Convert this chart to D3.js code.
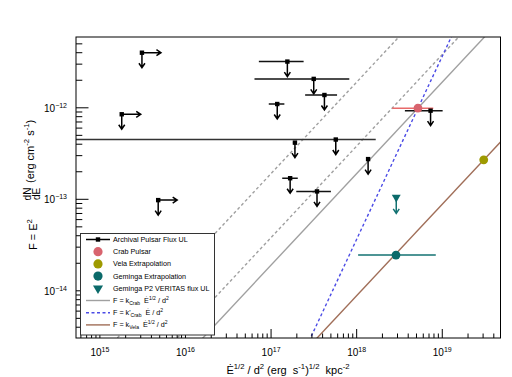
<!DOCTYPE html>
<html>
<head>
<meta charset="utf-8">
<script src="https://cdn.jsdelivr.net/npm/d3@7"></script>
<style>
body{margin:0;background:#fff}
text{font-family:"Liberation Sans",Arial,sans-serif;white-space:pre}
</style>
</head>
<body>
<svg class="chart"></svg>
<script>
//archival pulsar flux upper limits, xLo/xHi null = no bar, xLimit = arrow to the right
const archX = [3.1e15, 1.8e15, 4.8e15, 1.55e17, 3.15e17, 4.2e17, 1.18e17, 5.7e17, 1.9e17, 1.36e18, 1.67e17, 3.44e17, 7.3e18]
const archXLo = [null, null, null, 7.2e16, 6.4e16, 2.5e17, 9.4e16, 1e14, 1.8e17, null, 1.35e17, 1.97e17, 3.66e18]
const archXHi = [null, null, null, 2.4e17, 8.2e17, 5.9e17, 1.43e17, 1.67e18, 2.0e17, null, 2.05e17, 5.0e17, 1.01e19]
const archY = [4.0e-12, 8.5e-13, 9.8e-14, 3.2e-12, 2.07e-12, 1.38e-12, 1.1e-12, 4.5e-13, 4.16e-13, 2.75e-13, 1.7e-13, 1.22e-13, 9.3e-13]
const archXLimit = [true, true, true, false, false, false, false, false, false, false, false, false, false]

//crab, vela, geminga
const crabPoint = [5.2e18, 9.9e-13], crabXErr = [2.6e18, 7.85e18]
const velaPoint = [3.05e19, 2.7e-13]
const gemPoint = [2.88e18, 2.46e-14], gemXErr = [1.04e18, 8.4e18]
const gemUL = [2.9e18, 1.05e-13]

//model lines F = k * x^p
const modelK = [1.91e-31, 3.82e-31, 1.91e-30, 3.66e-50, 8.85e-33]
const modelPow = [1, 1, 1, 2, 1]

const xTickExp = [15, 16, 17, 18, 19]
const yTickExp = [-14, -13, -12]

const legendLabels = [
  [["Archival Pulsar Flux UL"]],
  [["Crab Pulsar"]],
  [["Vela Extrapolation"]],
  [["Geminga Extrapolation"]],
  [["Geminga P2 VERITAS flux UL"]],
  [["F = k"], ["Crab", "sub"], ["  \u0116"], ["1/2", "sup"], [" / d"], ["2", "sup"]],
  [["F = k'"], ["Crab", "sub"], ["  \u0116 / d"], ["2", "sup"]],
  [["F = k"], ["Vela", "sub"], ["  \u0116"], ["1/2", "sup"], [" / d"], ["2", "sup"]]
]

const W = 512, H = 377
const margin = {top: 37, right: 11.5, bottom: 39, left: 76}
const w = W - margin.left - margin.right, h = H - margin.top - margin.bottom

const svg = d3.select(".chart").attr("width", W).attr("height", H)
svg.append("rect").attr("width", W).attr("height", H).attr("fill", "#fff")

const x = d3.scaleLog().domain([5.26e14, 4.79e19]).range([0, w])
const y = d3.scaleLog().domain([3.05e-15, 5.94e-12]).range([h, 0])

svg.append("defs").append("clipPath").attr("id", "clip")
  .append("rect").attr("width", w).attr("height", h)

const chart = svg.append("g").attr("transform", "translate(" + margin.left + "," + margin.top + ")")
const plot = chart.append("g").attr("clip-path", "url(#clip)")

//rich text helper: parts = [[str, "sup"|"sub"|undefined]]
function rich(t, parts, fs){
  let shift = 0
  parts.forEach(function(p){
    let target = p[1] == "sup" ? -fs*0.42 : p[1] == "sub" ? fs*0.25 : 0
    t.append("tspan")
      .attr("dy", target - shift)
      .attr("font-size", p[1] ? fs*0.7 : fs)
      .text(p[0])
    shift = target
  })
  return t
}

//model lines
const lineStyle = [
  {c: "#a0a0a0", d: null},
  {c: "#a0a0a0", d: "3,2.5"},
  {c: "#a0a0a0", d: "3,2.5"},
  {c: "#4b4be6", d: "3,2.5"},
  {c: "#a06e58", d: null}
]
modelK.forEach(function(k, i){
  let xs = x.domain()
  let pts = xs.map(function(v){ return [x(v), y(k*Math.pow(v, modelPow[i]))] })
  plot.append("path")
    .attr("d", d3.line()(pts))
    .attr("fill", "none")
    .attr("stroke", lineStyle[i].c)
    .attr("stroke-width", 1.4)
    .attr("stroke-dasharray", lineStyle[i].d)
})

function downArrow(g, px, py, len, col){
  g.append("path")
    .attr("d", "M" + px + "," + py + "V" + (py+len) + "M" + (px-3) + "," + (py+len-4.5) + "L" + px + "," + (py+len) + "L" + (px+3) + "," + (py+len-4.5))
    .attr("fill", "none").attr("stroke", col).attr("stroke-width", 1.5)
}
function rightArrow(g, px, py, len, col){
  g.append("path")
    .attr("d", "M" + px + "," + py + "H" + (px+len) + "M" + (px+len-4.5) + "," + (py-3) + "L" + (px+len) + "," + py + "L" + (px+len-4.5) + "," + (py+3))
    .attr("fill", "none").attr("stroke", col).attr("stroke-width", 1.5)
}

//crab error bar
plot.append("line")
  .attr("x1", x(crabXErr[0])).attr("x2", x(crabXErr[1]))
  .attr("y1", y(crabPoint[1])).attr("y2", y(crabPoint[1]))
  .attr("stroke", "#e86a6a").attr("stroke-width", 1.5)

//archival points
archX.forEach(function(v, i){
  let px = x(v), py = y(archY[i])
  if(archXLo[i] != null){
    plot.append("line")
      .attr("x1", x(archXLo[i])).attr("x2", x(archXHi[i]))
      .attr("y1", py).attr("y2", py)
      .attr("stroke", i == 7 ? "#333" : "#111").attr("stroke-width", 1.5)
  }
  downArrow(plot, px, py, 15, "#000")
  if(archXLimit[i]) rightArrow(plot, px, py, 19, "#000")
  plot.append("rect").attr("x", px-2.2).attr("y", py-2.2).attr("width", 4.4).attr("height", 4.4).attr("fill", "#000")
})

plot.append("circle").attr("cx", x(crabPoint[0])).attr("cy", y(crabPoint[1])).attr("r", 4.4).attr("fill", "#d8646e")
plot.append("circle").attr("cx", x(velaPoint[0])).attr("cy", y(velaPoint[1])).attr("r", 4.4).attr("fill", "#9e9a00")

//geminga
plot.append("line")
  .attr("x1", x(gemXErr[0])).attr("x2", x(gemXErr[1]))
  .attr("y1", y(gemPoint[1])).attr("y2", y(gemPoint[1]))
  .attr("stroke", "#137272").attr("stroke-width", 1.5)
plot.append("circle").attr("cx", x(gemPoint[0])).attr("cy", y(gemPoint[1])).attr("r", 4.4).attr("fill", "#0b6a6a")
downArrow(plot, x(gemUL[0]), y(gemUL[1]), 16, "#137272")
plot.append("path")
  .attr("d", d3.symbol().type(d3.symbolTriangle).size(34))
  .attr("transform", "translate(" + x(gemUL[0]) + "," + y(gemUL[1]) + ") rotate(180)")
  .attr("fill", "#0b6a6a")

//frame
chart.append("rect").attr("width", w).attr("height", h).attr("fill", "none").attr("stroke", "#000").attr("stroke-width", 1)

//ticks
let xt = []
for(let e = 14; e <= 19; e++) for(let m = 1; m <= 9; m++){
  let v = m*Math.pow(10, e)
  if(v >= x.domain()[0] && v <= x.domain()[1]) xt.push([v, m == 1])
}
chart.selectAll(".xtick").data(xt).enter().append("line")
  .attr("x1", function(d){return x(d[0])}).attr("x2", function(d){return x(d[0])})
  .attr("y1", h).attr("y2", function(d){return h - (d[1] ? 9 : 4.5)})
  .attr("stroke", "#000").attr("stroke-width", 1)
let yt = []
for(let e = -15; e <= -12; e++) for(let m = 1; m <= 9; m++){
  let v = m*Math.pow(10, e)
  if(v >= y.domain()[0] && v <= y.domain()[1]) yt.push([v, m == 1])
}
chart.selectAll(".ytick").data(yt).enter().append("line")
  .attr("y1", function(d){return y(d[0])}).attr("y2", function(d){return y(d[0])})
  .attr("x1", 0).attr("x2", function(d){return d[1] ? 12.5 : 6.3})
  .attr("stroke", "#000").attr("stroke-width", 1)

xTickExp.forEach(function(e){
  rich(chart.append("text").attr("x", x(Math.pow(10, e))).attr("y", h + 18).attr("text-anchor", "middle"),
    [["10"], [String(e), "sup"]], 10)
})
yTickExp.forEach(function(e){
  rich(chart.append("text").attr("x", -9).attr("y", y(Math.pow(10, e)) + 4).attr("text-anchor", "end"),
    [["10"], [String(e).replace("-", "\u2212"), "sup"]], 10)
})

//axis titles
rich(svg.append("text").attr("x", 288).attr("y", 374).attr("text-anchor", "middle"),
  [["\u0116"], ["1/2", "sup"], [" / d"], ["2", "sup"], [" (erg  s"], ["-1", "sup"], [")"], ["1/2", "sup"], ["  kpc"], ["-2", "sup"]], 11)

let yt0 = svg.append("g").attr("transform", "rotate(-90)")
rich(yt0.append("text").attr("x", -250).attr("y", 37), [["F = E"], ["2", "sup"]], 11)
yt0.append("text").attr("x", -194).attr("y", 31).attr("text-anchor", "middle").attr("font-size", 10).text("dN")
yt0.append("text").attr("x", -194).attr("y", 39.5).attr("text-anchor", "middle").attr("font-size", 10).text("dE")
rich(yt0.append("text").attr("x", -183).attr("y", 34), [["(erg cm"], ["-2", "sup"], [" s"], ["-1", "sup"], [")"]], 11)

//legend
const lg = svg.append("g")
lg.append("rect").attr("x", 80.5).attr("y", 233.5).attr("width", 134).attr("height", 101.5)
  .attr("fill", "#fff").attr("stroke", "#333").attr("stroke-width", 1)
legendLabels.forEach(function(parts, i){
  let ry = 239.5 + i*12.2, sx = 98
  if(i == 0){
    lg.append("line").attr("x1", 86).attr("x2", 110).attr("y1", ry).attr("y2", ry).attr("stroke", "#000").attr("stroke-width", 1.5)
    lg.append("rect").attr("x", sx-2.2).attr("y", ry-2.2).attr("width", 4.4).attr("height", 4.4).attr("fill", "#000")
  } else if(i <= 3){
    lg.append("circle").attr("cx", sx).attr("cy", ry).attr("r", 4.6).attr("fill", ["", "#d8646e", "#9e9a00", "#0b6a6a"][i])
  } else if(i == 4){
    lg.append("path").attr("d", d3.symbol().type(d3.symbolTriangle).size(44))
      .attr("transform", "translate(" + sx + "," + ry + ") rotate(180)").attr("fill", "#0b6a6a")
  } else {
    let st = lineStyle[[0, 3, 4][i-5]]
    lg.append("line").attr("x1", 86).attr("x2", 110).attr("y1", ry).attr("y2", ry)
      .attr("stroke", st.c).attr("stroke-width", 1.4).attr("stroke-dasharray", st.d)
  }
  rich(lg.append("text").attr("x", 113).attr("y", ry + 2.5), parts, 7.2)
})
</script>
</body>
</html>
